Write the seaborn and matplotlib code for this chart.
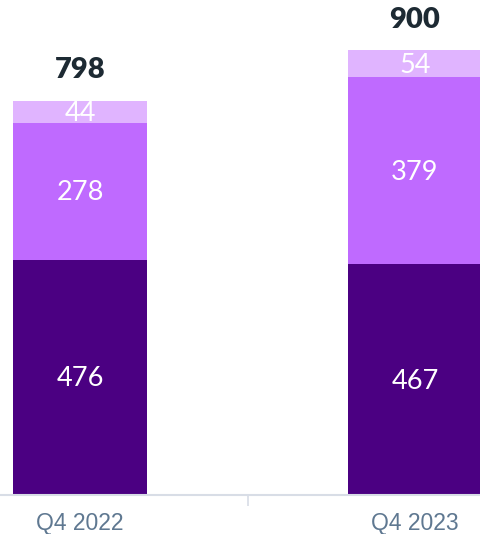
import matplotlib
matplotlib.use("Agg")
import matplotlib.pyplot as plt
import seaborn as sns
import pandas as pd

categories = ["Q4 2022", "Q4 2023"]
bottom_vals = [476, 467]
middle_vals = [278, 379]
top_vals = [44, 54]
totals = [798, 900]

colors = ["#4B0082", "#BF6AFF", "#E0B4FF"]

sns.set_style("white")
plt.rcParams['font.family'] = ['Lato', 'DejaVu Sans']

fig = plt.figure(figsize=(4.8, 5.34), dpi=100)
ax = fig.add_axes([0, 1 - 495 / 534, 1, 495 / 534])

df = pd.DataFrame({"cat": categories, "b": bottom_vals, "m": middle_vals, "t": top_vals})
base1 = [0, 0]
base2 = bottom_vals
base3 = [b + m for b, m in zip(bottom_vals, middle_vals)]

for col, base, c in [("b", base1, colors[0]), ("m", base2, colors[1]), ("t", base3, colors[2])]:
    sns.barplot(data=df, x="cat", y=col, bottom=base, color=c, width=0.4,
                saturation=1, ax=ax, linewidth=0, edgecolor="none")

for i in range(2):
    segs = [(bottom_vals[i], 0), (middle_vals[i], base2[i]), (top_vals[i], base3[i])]
    for v, b in segs:
        ax.text(i, b + v / 2 - 3, str(v), ha="center", va="center", color="white",
                fontsize=19.5, fontweight="normal")
    ax.text(i, totals[i] + 35, str(totals[i]), ha="center", va="bottom",
            color="#1d2a33", fontsize=21, fontweight="heavy")

ax.set_xlim(-80 / 335, 400 / 335)
ax.set_ylim(0, 495 / 0.494)
ax.set_xlabel("")
ax.set_ylabel("")
ax.set_yticks([])
ax.set_xticks([0, 1])
ax.set_xticklabels(categories, fontsize=16.5, color="#5f7891",
                   fontfamily=["Liberation Sans", "DejaVu Sans"])
ax.tick_params(axis="x", which="major", length=0, pad=12, bottom=False)
ax.set_xticks([0.5], minor=True)
ax.tick_params(axis="x", which="minor", length=8, color="#d8dde6", width=1.2, bottom=True)
for s in ["top", "right", "left"]:
    ax.spines[s].set_visible(False)
ax.spines["bottom"].set_color("#d8dde6")
ax.spines["bottom"].set_linewidth(1.5)

fig.savefig("out.png", dpi=100)
